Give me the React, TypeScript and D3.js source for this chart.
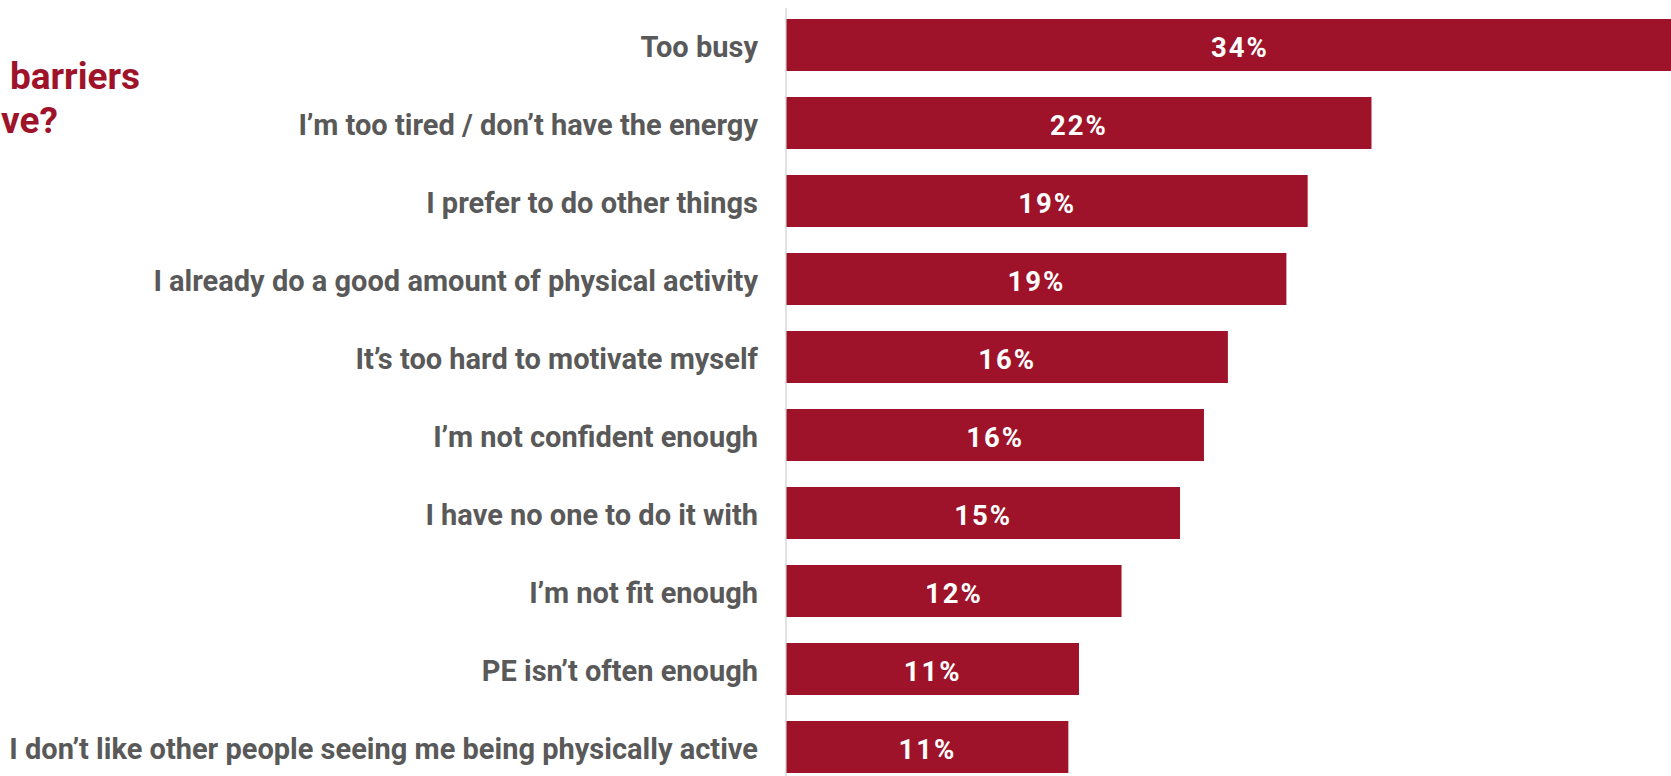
import React from "react";
import * as d3 from "d3";

const categories: string[] = [
  "Too busy",
  "I’m too tired / don’t have the energy",
  "I prefer to do other things",
  "I already do a good amount of physical activity",
  "It’s too hard to motivate myself",
  "I’m not confident enough",
  "I have no one to do it with",
  "I’m not fit enough",
  "PE isn’t often enough",
  "I don’t like other people seeing me being physically active",
];
const values: number[] = [34.1, 22.0, 19.6, 18.8, 16.6, 15.7, 14.8, 12.6, 11.0, 10.6];
const valueLabels: string[] = ["34%", "22%", "19%", "19%", "16%", "16%", "15%", "12%", "11%", "11%"];
const titleLines: string[] = ["What are the main barriers", "to being more active?"];

const W = 1671;
const H = 776;
const RED = "#9E1329";
const GREY = "#595959";

export default function App() {
  const x0 = 786.5;
  const x = d3.scaleLinear().domain([0, 10]).range([x0, x0 + 265.9]);
  const y = d3
    .scaleBand<string>()
    .domain(categories)
    .range([19 - 13, 19 - 13 + 78 * 10])
    .paddingInner(1 / 3)
    .paddingOuter(1 / 6);
  return (
    <svg
      width={W}
      height={H}
      style={{ position: "absolute", left: 0, top: 0, display: "block" }}
      fontFamily="Roboto, 'Noto Sans', sans-serif"
    >
      <rect width={W} height={H} fill="#fff" />
      <g fill={RED} fontWeight={700} fontSize={37} textAnchor="end">
        <text x={140} y={89}>{titleLines[0]}</text>
        <text x={58} y={133}>{titleLines[1]}</text>
      </g>
      <line x1={x0 - 0.5} x2={x0 - 0.5} y1={8} y2={H} stroke="#d9d9d9" strokeWidth={1.5} />
      {categories.map((c, i) => {
        const yy = y(c)!;
        const bw = y.bandwidth();
        const xe = x(values[i]);
        return (
          <g key={c}>
            <rect x={x0} y={yy} width={xe - x0} height={bw} fill={RED} />
            <text
              x={758}
              y={yy + bw / 2 + 11.5}
              textAnchor="end"
              fill={GREY}
              fontWeight={700}
              fontSize={29}
            >
              {c}
            </text>
            <text
              x={(x0 + xe) / 2}
              y={yy + bw / 2 + 12}
              textAnchor="middle"
              fill="#fff"
              fontWeight={700}
              fontSize={27.5}
              letterSpacing={2}
            >
              {valueLabels[i]}
            </text>
          </g>
        );
      })}
    </svg>
  );
}
